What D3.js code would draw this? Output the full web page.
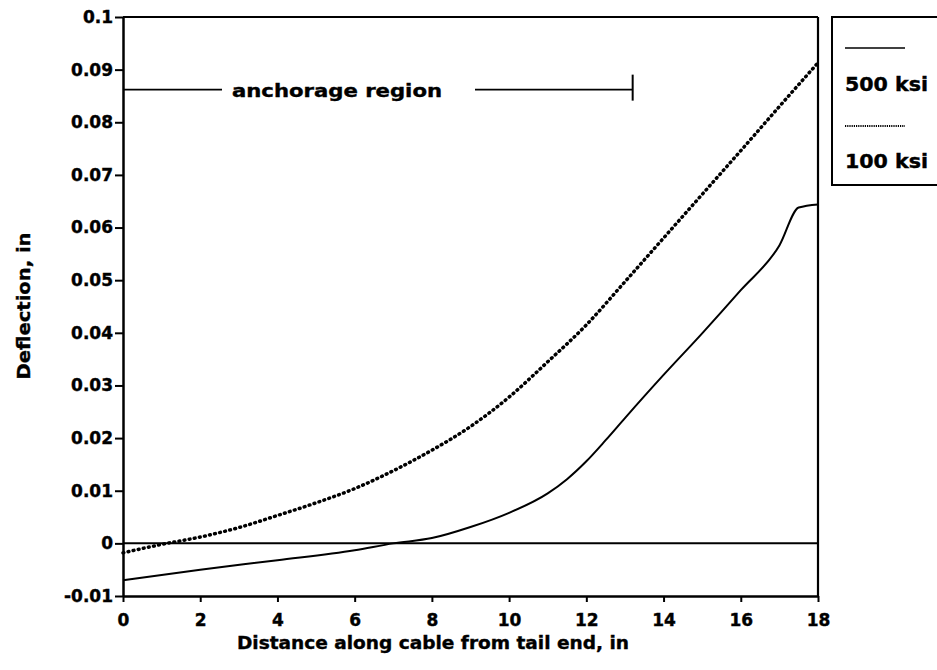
<!DOCTYPE html>
<html>
<head>
<meta charset="utf-8">
<script src="https://cdn.jsdelivr.net/npm/d3@7"></script>
<style>
  html, body { margin: 0; padding: 0; background: #fff; }
  svg { display: block; }
  text { font-family: "DejaVu Sans", "Liberation Sans", sans-serif; font-weight: bold; fill: #000; }
</style>
</head>
<body>
<svg id="chart" width="937" height="670"></svg>
<script>
// ---- data ----
const xTicks = [0, 2, 4, 6, 8, 10, 12, 14, 16, 18];
const xTickLabels = ["0", "2", "4", "6", "8", "10", "12", "14", "16", "18"];
const yTicks = [-0.01, 0, 0.01, 0.02, 0.03, 0.04, 0.05, 0.06, 0.07, 0.08, 0.09, 0.1];
const yTickLabels = ["-0.01", "0", "0.01", "0.02", "0.03", "0.04", "0.05", "0.06", "0.07", "0.08", "0.09", "0.1"];

// 500 ksi (solid)
const x500 = [0, 2, 4, 6, 7, 8, 9, 10, 11, 11.5, 12, 12.5, 13, 14, 15, 16, 17, 17.5, 18];
const y500 = [-0.0070, -0.0050, -0.0032, -0.0013, 0.0000, 0.0010, 0.0031, 0.0058, 0.0095, 0.0122, 0.0156, 0.0196, 0.0238, 0.0320, 0.0399, 0.0481, 0.0566, 0.0638, 0.0644];

// 100 ksi (dotted)
const x100 = [0, 1, 2, 3, 4, 5, 6, 7, 8, 9, 10, 11, 12, 13, 14, 15, 16, 17, 18];
const y100 = [-0.0018, -0.0002, 0.0012, 0.0030, 0.0053, 0.0077, 0.0104, 0.0138, 0.0177, 0.0222, 0.0278, 0.0345, 0.0415, 0.0497, 0.0580, 0.0663, 0.0746, 0.0830, 0.0913];

const seriesNames = ["500 ksi", "100 ksi"];
const anchorageRange = [0, 13.2];
const anchorageLevel = 0.0862;
const anchorageLabel = "anchorage region";
const xTitle = "Distance along cable from tail end, in";
const yTitle = "Deflection, in";

// ---- layout ----
const svg = d3.select("#chart");
const x = d3.scaleLinear().domain([0, 18]).range([123, 818]);
const y = d3.scaleLinear().domain([-0.01, 0.1]).range([596, 17]);

// frame top & right
svg.append("line").attr("x1", x(0)).attr("x2", x(18)).attr("y1", y(0.1)).attr("y2", y(0.1))
  .attr("stroke", "#000").attr("stroke-width", 2);
svg.append("line").attr("x1", x(18)).attr("x2", x(18)).attr("y1", y(0.1)).attr("y2", y(-0.01))
  .attr("stroke", "#000").attr("stroke-width", 2.2);

// zero line
svg.append("line").attr("x1", x(0)).attr("x2", x(18)).attr("y1", y(0)).attr("y2", y(0))
  .attr("stroke", "#000").attr("stroke-width", 2);

// axes
const gx = svg.append("g").attr("transform", `translate(0,${y(-0.01)})`)
  .call(d3.axisBottom(x).tickValues(xTicks).tickFormat((d, i) => xTickLabels[i]).tickSize(6).tickSizeOuter(0).tickPadding(12));
const gy = svg.append("g").attr("transform", `translate(${x(0)},0)`)
  .call(d3.axisLeft(y).tickValues(yTicks).tickFormat((d, i) => yTickLabels[i]).tickSize(8).tickSizeOuter(0).tickPadding(2));
[gx, gy].forEach(g => {
  g.select(".domain").attr("stroke", "#000").attr("stroke-width", 2.5);
  g.selectAll(".tick line").attr("stroke", "#000").attr("stroke-width", 2);
  g.selectAll(".tick text").attr("font-family", '"DejaVu Sans", sans-serif')
    .attr("font-weight", "bold").attr("font-size", 17).attr("fill", "#000")
    .attr("stroke", "#000").attr("stroke-width", 0.4);
});

// axis titles
svg.append("text").attr("x", 433).attr("y", 649).attr("text-anchor", "middle")
  .attr("font-size", 18).attr("textLength", 392).attr("lengthAdjust", "spacingAndGlyphs")
  .attr("stroke", "#000").attr("stroke-width", 0.4).text(xTitle);
svg.append("text").attr("transform", `translate(30,306) rotate(-90)`).attr("text-anchor", "middle")
  .attr("font-size", 18).attr("textLength", 147).attr("lengthAdjust", "spacingAndGlyphs")
  .attr("stroke", "#000").attr("stroke-width", 0.4).text(yTitle);

// series
const line = d3.line().x(d => x(d[0])).y(d => y(d[1])).curve(d3.curveMonotoneX);
svg.append("path").datum(x500.map((v, i) => [v, y500[i]]))
  .attr("d", line).attr("fill", "none").attr("stroke", "#000").attr("stroke-width", 2);
svg.append("path").datum(x100.map((v, i) => [v, y100[i]]))
  .attr("d", line).attr("fill", "none").attr("stroke", "#000").attr("stroke-width", 3.5)
  .attr("stroke-linecap", "round").attr("stroke-dasharray", "0.8,4.4");

// anchorage region annotation
const ay = y(anchorageLevel);
svg.append("line").attr("x1", x(anchorageRange[0])).attr("x2", 222).attr("y1", ay).attr("y2", ay)
  .attr("stroke", "#000").attr("stroke-width", 1.8);
svg.append("text").attr("x", 232).attr("y", ay + 7).attr("font-size", 18)
  .attr("textLength", 210).attr("lengthAdjust", "spacingAndGlyphs")
  .attr("stroke", "#000").attr("stroke-width", 0.4).text(anchorageLabel);
svg.append("line").attr("x1", 475).attr("x2", x(anchorageRange[1])).attr("y1", ay).attr("y2", ay)
  .attr("stroke", "#000").attr("stroke-width", 1.8);
svg.append("line").attr("x1", x(anchorageRange[1])).attr("x2", x(anchorageRange[1])).attr("y1", ay - 15).attr("y2", ay + 11)
  .attr("stroke", "#000").attr("stroke-width", 2);

// legend
const lg = svg.append("g");
lg.append("rect").attr("x", 832).attr("y", 17).attr("width", 120).attr("height", 168)
  .attr("fill", "#fff").attr("stroke", "#000").attr("stroke-width", 2);
lg.append("line").attr("x1", 845).attr("x2", 905).attr("y1", 48).attr("y2", 48)
  .attr("stroke", "#000").attr("stroke-width", 1.6);
lg.append("text").attr("x", 845).attr("y", 91).attr("font-size", 19)
  .attr("textLength", 83).attr("lengthAdjust", "spacingAndGlyphs")
  .attr("stroke", "#000").attr("stroke-width", 0.4).text(seriesNames[0]);
lg.append("line").attr("x1", 845).attr("x2", 905).attr("y1", 126).attr("y2", 126)
  .attr("stroke", "#000").attr("stroke-width", 2).attr("stroke-dasharray", "1.2,1");
lg.append("text").attr("x", 845).attr("y", 168).attr("font-size", 19)
  .attr("textLength", 83).attr("lengthAdjust", "spacingAndGlyphs")
  .attr("stroke", "#000").attr("stroke-width", 0.4).text(seriesNames[1]);
</script>
</body>
</html>
